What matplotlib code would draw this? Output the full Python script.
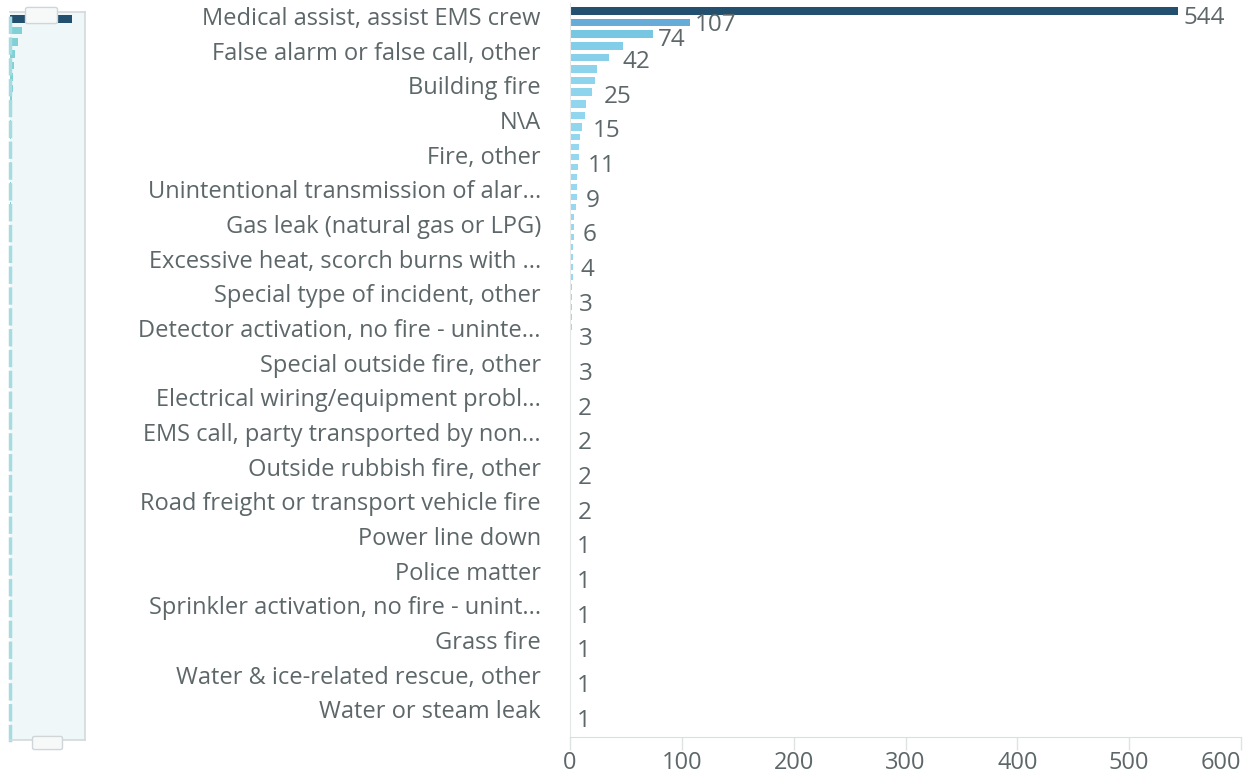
import numpy as np
import matplotlib
matplotlib.use("Agg")
import matplotlib.pyplot as plt
from matplotlib.colors import LinearSegmentedColormap, Normalize
from matplotlib.patches import FancyBboxPatch

plt.rcParams["font.family"] = ["Open Sans", "DejaVu Sans"]

# Incident type names shown on the y axis (top to bottom)
categories = [
    "Medical assist, assist EMS crew",
    "False alarm or false call, other",
    "Building fire",
    "N\\A",
    "Fire, other",
    "Unintentional transmission of alar...",
    "Gas leak (natural gas or LPG)",
    "Excessive heat, scorch burns with ...",
    "Special type of incident, other",
    "Detector activation, no fire - uninte...",
    "Special outside fire, other",
    "Electrical wiring/equipment probl...",
    "EMS call, party transported by non...",
    "Outside rubbish fire, other",
    "Road freight or transport vehicle fire",
    "Power line down",
    "Police matter",
    "Sprinkler activation, no fire - unint...",
    "Grass fire",
    "Water & ice-related rescue, other",
    "Water or steam leak",
]

# Count labels printed beside the bars
label_values = [544, 107, 74, 42, 25, 15, 11, 9, 6, 4, 3, 3, 3,
                2, 2, 2, 2, 1, 1, 1, 1, 1, 1]

# Bar lengths (bars packed near the top during the transition)
head_values = [544, 107, 74, 47, 35, 24, 22, 20, 14, 13, 11]
tail_values = [9, 8, 8, 7, 6, 6, 6, 5, 4, 4, 4, 3, 3, 3, 3, 2, 2, 2, 2, 2,
               1, 1, 1, 1, 1, 1, 1, 1, 1, 1, 1, 1, 1,
               1, 1, 1, 1, 1, 1, 1, 1, 1, 1, 1, 1, 1,
               1, 1, 1, 1, 1, 1, 1, 1, 1, 1, 1, 1, 1]

x_ticks = [0, 100, 200, 300, 400, 500, 600]

TEXT = "#5d6769"
W, H = 1243, 780

# ---- layout (rows: one unit per y-axis label) ----
head_rows = -0.144 + 0.335 * np.arange(len(head_values))
tail_rows = 3.49 + 0.2886 * np.arange(len(tail_values))
bar_values = np.array(head_values + tail_values, dtype=float)
bar_rows = np.r_[head_rows, tail_rows]
bar_heights = np.r_[np.full(len(head_values), 0.22), np.full(len(tail_values), 0.15)]

label_rows = np.r_[[0.06, 0.26, 0.69], 1.33 + np.arange(len(label_values) - 3)]

cmap = LinearSegmentedColormap.from_list(
    "incident",
    [(0.0, "#97d9f0"), (0.136, "#76c6e2"), (0.197, "#67acd9"), (1.0, "#23506f")],
)
norm = Normalize(0, max(bar_values))
bar_colors = cmap(norm(bar_values))

fig = plt.figure(figsize=(W / 100, H / 100), dpi=100)
fig.patch.set_facecolor("white")

# ---- main bar chart ----
ax = fig.add_axes([570 / W, 1 - 737 / H, (1241 - 570) / W, (737 - 3) / H])
ax.barh(bar_rows, bar_values, height=bar_heights, color=bar_colors, linewidth=0)
ax.set_xlim(0, 600)
ax.set_ylim(20.8, -0.375)

ax.set_yticks(np.arange(len(categories)))
ax.set_yticklabels(categories, fontsize=17, color=TEXT)
ax.tick_params(axis="y", length=0, pad=21)

ax.set_xticks(x_ticks)
ax.set_xticklabels([str(t) for t in x_ticks], fontsize=17, color=TEXT)
ax.tick_params(axis="x", length=9, width=1, color="#dde2e3", pad=1)
ax.get_xticklabels()[-1].set_horizontalalignment("right")

for s in ["top", "right"]:
    ax.spines[s].set_visible(False)
ax.spines["bottom"].set_color("#d9dedf")
ax.spines["left"].set_color("#e4e8e9")

for v, r in zip(label_values, label_rows):
    ax.annotate(str(v), (v, r), xytext=(4, 0), textcoords="offset points",
                va="center", ha="left", fontsize=17.5, color=TEXT)

# ---- range-slider overview on the left ----
mini = fig.add_axes([10 / W, 1 - 740 / H, 75 / W, 728 / H])
mini.set_facecolor("#eff7f9")
mini_colors = np.where(bar_values[:, None] > 200, cmap(1.0), np.array([[0.50, 0.82, 0.84, 1.0]]))
mini.barh(bar_rows, bar_values, height=bar_heights, color=mini_colors, linewidth=0)
mini.set_xlim(0, 660)
mini.set_ylim(20.66, -0.346)
mini.set_xticks([])
mini.set_yticks([])
for s in mini.spines.values():
    s.set_color("#d3d9db")
    s.set_linewidth(1.2)
mini.spines["left"].set_color("#a6dcdf")
mini.spines["left"].set_linewidth(2.5)
mini.spines["left"].set_linestyle((0, (4, 2)))

# slider grips
fig.patches.append(FancyBboxPatch((28 / W, 1 - 22 / H), 27 / W, 13 / H,
                                  boxstyle="round,pad=0.002", transform=fig.transFigure,
                                  facecolor="#f7f9f9", edgecolor="#d0d6d8", lw=1, zorder=5))
fig.patches.append(FancyBboxPatch((35 / W, 1 - 748 / H), 25 / W, 10 / H,
                                  boxstyle="round,pad=0.002", transform=fig.transFigure,
                                  facecolor="#f7f9f9", edgecolor="#d0d6d8", lw=1, zorder=5))

fig.savefig("out.png", dpi=100)
